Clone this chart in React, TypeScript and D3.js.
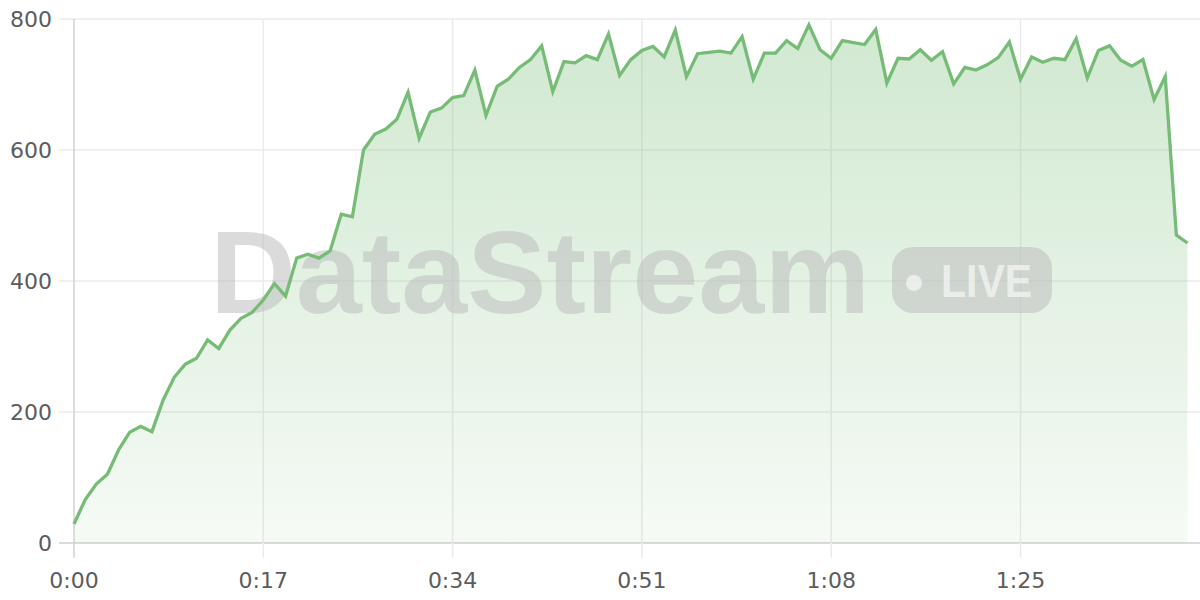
import React from "react";
import * as d3 from "d3";

// Values sampled once per second, 0:00 .. 1:40
const values: number[] = [
  29, 66, 90, 105, 142, 169, 178, 170, 218, 253,
  273, 282, 310, 297, 325, 343, 352, 371, 396, 377,
  435, 441, 435, 446, 502, 498, 600, 624, 632, 647,
  688, 618, 658, 664, 680, 683, 722, 653, 697, 708,
  726, 738, 759, 689, 735, 733, 744, 738, 777, 714,
  738, 752, 758, 742, 783, 712, 747, 749, 751, 748,
  773, 708, 748, 748, 767, 755, 791, 753, 740, 767,
  764, 761, 784, 702, 740, 739, 753, 737, 750, 701,
  726, 722, 730, 741, 765, 708, 742, 734, 740, 738,
  770, 710, 752, 759, 737, 728, 738, 677, 712, 470,
  458,
];
const xTicks: number[] = [0, 17, 34, 51, 68, 85];
const yTicks: number[] = [0, 200, 400, 600, 800];
const watermarkText = "DataStream";
const badgeText = "LIVE";

const W = 1200;
const H = 600;
const left = 74;
const top = 19;
const bottom = 543;
const lineColor = "#76bc76";

function fmt(s: number) {
  const m = Math.floor(s / 60);
  const ss = s % 60;
  return `${m}:${ss < 10 ? "0" : ""}${ss}`;
}

export default function App() {
  const x = d3.scaleLinear().domain([0, values.length - 1]).range([left, 1187.5]);
  const y = d3.scaleLinear().domain([0, 800]).range([bottom, top]);
  const line = d3
    .line<number>()
    .x((_, i) => x(i))
    .y((d) => y(d));
  const area = d3
    .area<number>()
    .x((_, i) => x(i))
    .y0(y(0))
    .y1((d) => y(d));

  const font = "'DejaVu Sans', sans-serif";

  return (
    <svg
      width={W}
      height={H}
      style={{ position: "absolute", left: 0, top: 0, background: "#fff" }}
    >
      <defs>
        <linearGradient id="ag" gradientUnits="userSpaceOnUse" x1="0" y1={top} x2="0" y2={bottom}>
          <stop offset="0%" stopColor={lineColor} stopOpacity={0.34} />
          <stop offset="100%" stopColor={lineColor} stopOpacity={0.07} />
        </linearGradient>
      </defs>
      {/* horizontal grid */}
      {yTicks.map((t) => (
        <line
          key={"h" + t}
          x1={59}
          x2={W}
          y1={y(t)}
          y2={y(t)}
          stroke={t === 0 ? "#cfcfcf" : "#ebebeb"}
          strokeWidth={1.5}
        />
      ))}
      {/* vertical grid */}
      {xTicks.map((t) => (
        <line
          key={"v" + t}
          x1={x(t)}
          x2={x(t)}
          y1={top}
          y2={558}
          stroke={t === 0 ? "#d2d2d2" : "#ebebeb"}
          strokeWidth={1.5}
        />
      ))}
      <path d={area(values) || ""} fill="url(#ag)" />
      {/* watermark */}
      <g>
        <text
          x={210}
          y={313}
          fontFamily="'Liberation Sans', Arial, sans-serif"
          fontWeight="bold"
          fontSize={116}
          textLength={660}
          lengthAdjust="spacingAndGlyphs"
          fill="rgb(190,190,190)"
          fillOpacity={0.55}
        >
          {watermarkText}
        </text>
        <rect x={892} y={247} width={160} height={66} rx={21} fill="rgb(190,190,190)" fillOpacity={0.55} />
        <circle cx={914} cy={283} r={8} fill="#fff" fillOpacity={0.6} />
        <text
          x={941}
          y={297}
          fontFamily="'Liberation Sans', Arial, sans-serif"
          fontWeight="bold"
          fontSize={47}
          textLength={91}
          lengthAdjust="spacingAndGlyphs"
          fill="#fff"
          fillOpacity={0.6}
        >
          {badgeText}
        </text>
      </g>
      <path d={line(values) || ""} fill="none" stroke={lineColor} strokeWidth={3.3} strokeLinejoin="miter" />
      {/* y labels */}
      {yTicks.map((t) => (
        <text
          key={"yl" + t}
          x={52}
          y={y(t)}
          dy="0.36em"
          textAnchor="end"
          fontFamily={font}
          fontSize={22}
          fill="#5c5c5c"
        >
          {t}
        </text>
      ))}
      {/* x labels */}
      {xTicks.map((t) => (
        <text
          key={"xl" + t}
          x={x(t)}
          y={588}
          textAnchor="middle"
          fontFamily={font}
          fontSize={22}
          fill="#5c5c5c"
        >
          {fmt(t)}
        </text>
      ))}
    </svg>
  );
}
